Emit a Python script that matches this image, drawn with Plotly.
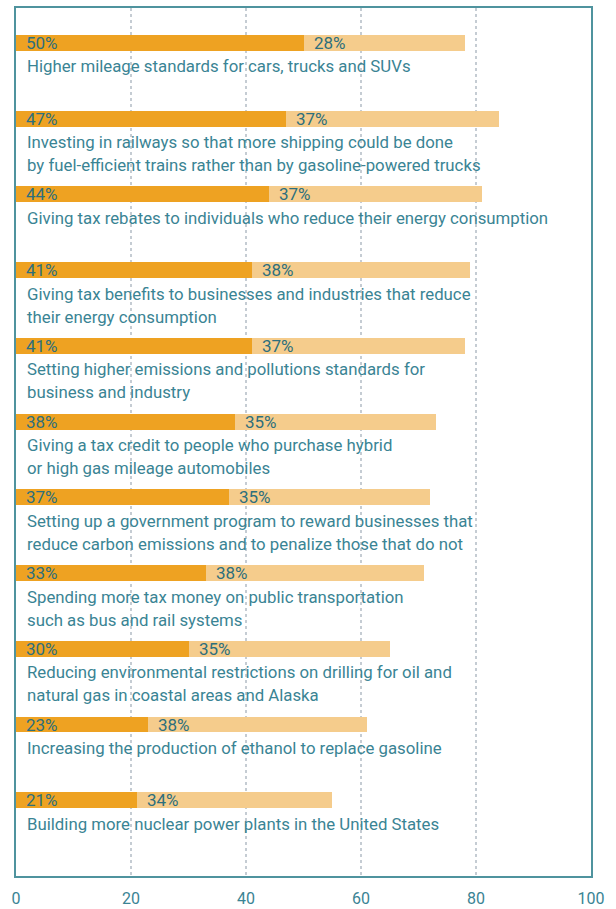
import plotly.graph_objects as go

categories = [
    ["Higher mileage standards for cars, trucks and SUVs"],
    ["Investing in railways so that more shipping could be done",
     "by fuel-efficient trains rather than by gasoline-powered trucks"],
    ["Giving tax rebates to individuals who reduce their energy consumption"],
    ["Giving tax benefits to businesses and industries that reduce",
     "their energy consumption"],
    ["Setting higher emissions and pollutions standards for",
     "business and industry"],
    ["Giving a tax credit to people who purchase hybrid",
     "or high gas mileage automobiles"],
    ["Setting up a government program to reward businesses that",
     "reduce carbon emissions and to penalize those that do not"],
    ["Spending more tax money on public transportation",
     "such as bus and rail systems"],
    ["Reducing environmental restrictions on drilling for oil and",
     "natural gas in coastal areas and Alaska"],
    ["Increasing the production of ethanol to replace gasoline"],
    ["Building more nuclear power plants in the United States"],
]
strongly = [50, 47, 44, 41, 41, 38, 37, 33, 30, 23, 21]
somewhat = [28, 37, 37, 38, 37, 35, 35, 38, 35, 38, 34]
tick_vals = [0, 20, 40, 60, 80, 100]

DARK = "#EEA222"
LIGHT = "#F5CC8C"
TEAL = "#3A8494"
TEAL_DARK = "#2D6F7D"
AXIS = "#4F939E"
FONT = "Roboto"

pos = list(range(len(categories)))
fig = go.Figure()
fig.add_trace(go.Bar(y=pos, x=strongly, orientation="h", marker=dict(color=DARK, line=dict(width=0)),
                     width=0.21, hoverinfo="skip"))
fig.add_trace(go.Bar(y=pos, x=somewhat, orientation="h", marker=dict(color=LIGHT, line=dict(width=0)),
                     width=0.21, hoverinfo="skip"))

annotations = []
for i, (a, b, lines) in enumerate(zip(strongly, somewhat, categories)):
    annotations.append(dict(x=1.4, y=i, text=f"{a}%", xanchor="left", yanchor="middle",
                            showarrow=False, font=dict(family=FONT, size=17, color=TEAL_DARK)))
    annotations.append(dict(x=a + 1.4, y=i, text=f"{b}%", xanchor="left", yanchor="middle",
                            showarrow=False, font=dict(family=FONT, size=17, color=TEAL_DARK)))
    for k, line in enumerate(lines):
        annotations.append(dict(x=1.5, y=i + 0.31 + k * 0.305, text=line, xanchor="left",
                                yanchor="middle", showarrow=False,
                                font=dict(family=FONT, size=16.8, color=TEAL)))

fig.update_layout(
    barmode="stack",
    width=616, height=909,
    margin=dict(l=16, r=25, t=8, b=33, autoexpand=False),
    paper_bgcolor="white", plot_bgcolor="white",
    showlegend=False,
    annotations=annotations,
    xaxis=dict(range=[0, 100], tickvals=tick_vals, showgrid=True, gridcolor="#C5CCD3",
               griddash="dot", gridwidth=1.5, zeroline=False, showline=True, mirror=True,
               linecolor=AXIS, linewidth=2, ticks="", ticklabelstandoff=7, automargin=False,
               tickfont=dict(family=FONT, size=16, color=TEAL)),
    yaxis=dict(range=[11.0, -0.46], showticklabels=False, showgrid=False, zeroline=False,
               showline=True, mirror=True, linecolor=AXIS, linewidth=2, ticks="", automargin=False),
)
fig.write_html("out.html")
